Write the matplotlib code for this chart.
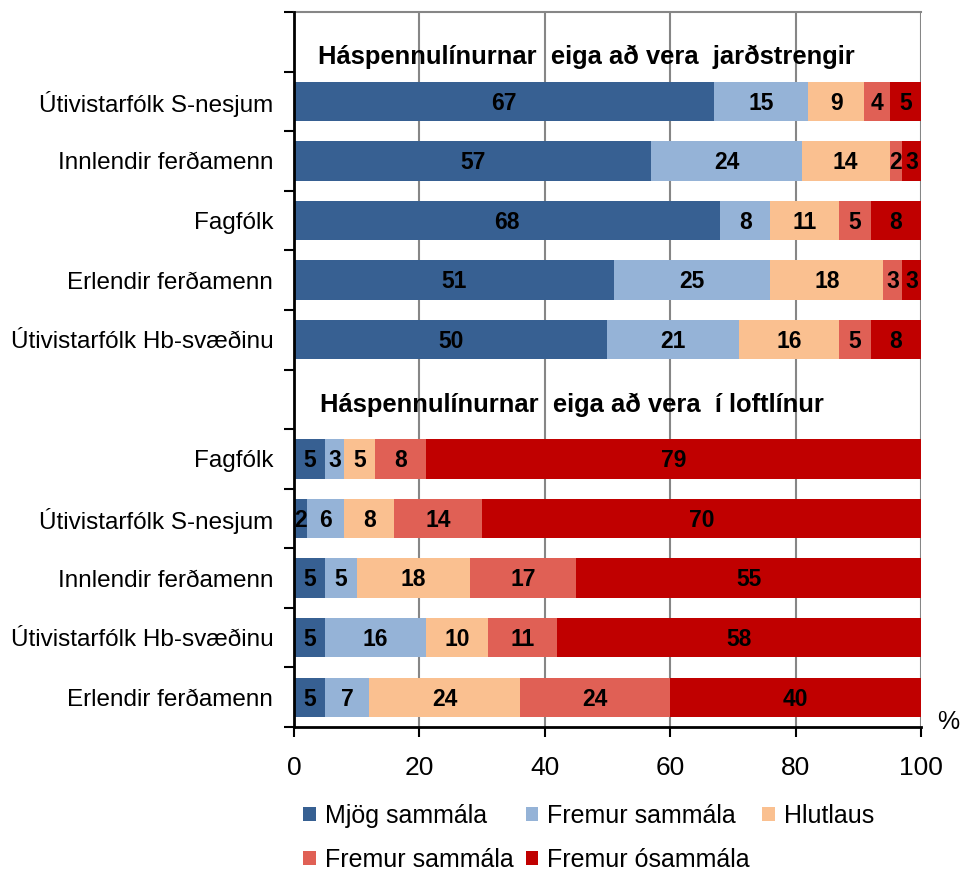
import numpy as np
import matplotlib
matplotlib.use("Agg")
import matplotlib.pyplot as plt
from matplotlib.patches import Patch

plt.rcParams['font.family'] = ['Liberation Sans', 'DejaVu Sans']

# gögn
heading_top = "Háspennulínurnar  eiga að vera  jarðstrengir"
heading_bottom = "Háspennulínurnar  eiga að vera  í loftlínur"

groups_top = ["Útivistarfólk S-nesjum", "Innlendir ferðamenn", "Fagfólk",
              "Erlendir ferðamenn", "Útivistarfólk Hb-svæðinu"]
groups_bottom = ["Fagfólk", "Útivistarfólk S-nesjum", "Innlendir ferðamenn",
                 "Útivistarfólk Hb-svæðinu", "Erlendir ferðamenn"]

series_names = ["Mjög sammála", "Fremur sammála", "Hlutlaus",
                "Fremur sammála", "Fremur ósammála"]
colors = ["#376092", "#95B3D7", "#FAC090", "#E06055", "#C00000"]

values_top = [
    [67, 15, 9, 4, 5],
    [57, 24, 14, 2, 3],
    [68, 8, 11, 5, 8],
    [51, 25, 18, 3, 3],
    [50, 21, 16, 5, 8],
]
values_bottom = [
    [5, 3, 5, 8, 79],
    [2, 6, 8, 14, 70],
    [5, 5, 18, 17, 55],
    [5, 16, 10, 11, 58],
    [5, 7, 24, 24, 40],
]

x_ticks = [0, 20, 40, 60, 80, 100]

# raðir: fyrirsögn, 5 súlur, fyrirsögn, 5 súlur
labels = [""] + groups_top + [""] + groups_bottom
rows = [None] + values_top + [None] + values_bottom
ypos = np.arange(len(labels))

fig = plt.figure(figsize=(9.6, 8.71), dpi=100)
ax = fig.add_axes([0.30625, 0.1653, 0.653, 0.8209])

for y, vals in zip(ypos, rows):
    if vals is None:
        continue
    left = 0
    for i, v in enumerate(vals):
        ax.barh(y, v, left=left, height=0.66, color=colors[i], zorder=3)
        ax.text(left + v / 2, y + 0.03, str(v), ha='center', va='center',
                fontsize=16.5, fontweight='bold', color='black', zorder=4)
        left += v

ax.text(3.8, 0.25, heading_top, ha='left', va='center', fontsize=18.4,
        fontweight='bold')
ax.text(4.2, 6.1, heading_bottom, ha='left', va='center', fontsize=18.4,
        fontweight='bold')

ax.set_xlim(0, 100)
ax.set_ylim(len(labels) - 0.5, -0.5)
ax.set_xticks(x_ticks)
ax.set_xticklabels([str(t) for t in x_ticks], fontsize=19)
ax.set_yticks(ypos)
ax.set_yticklabels(labels, fontsize=17.5)
ax.set_yticks(np.arange(-0.5, len(labels)), minor=True)
ax.tick_params(axis='y', which='major', length=0, pad=15)
ax.tick_params(axis='y', which='minor', length=7, width=1.5, direction='out')
ax.tick_params(axis='x', length=7, width=1.5, direction='out', pad=14)

ax.grid(axis='x', color='#868686', linewidth=1.5, zorder=0)
for s in ['left', 'bottom']:
    ax.spines[s].set_linewidth(2)
    ax.spines[s].set_zorder(5)
ax.spines['right'].set_visible(False)
ax.spines['top'].set_color('#868686')
ax.spines['top'].set_linewidth(1.5)

ax.text(1.043, -0.01, "%", transform=ax.transAxes, fontsize=18,
        ha='center', va='bottom')

handles = [Patch(facecolor=c, edgecolor='none') for c in colors]
order = [0, 3, 1, 4, 2]
fig.legend([handles[i] for i in order], [series_names[i] for i in order],
           ncol=3, loc='upper left', bbox_to_anchor=(0.303, 0.091),
           frameon=False, fontsize=18, handlelength=0.5, handleheight=0.5,
           handletextpad=0.35, columnspacing=0.5, labelspacing=0.78,
           borderpad=0)

fig.savefig("out.png", dpi=100)
